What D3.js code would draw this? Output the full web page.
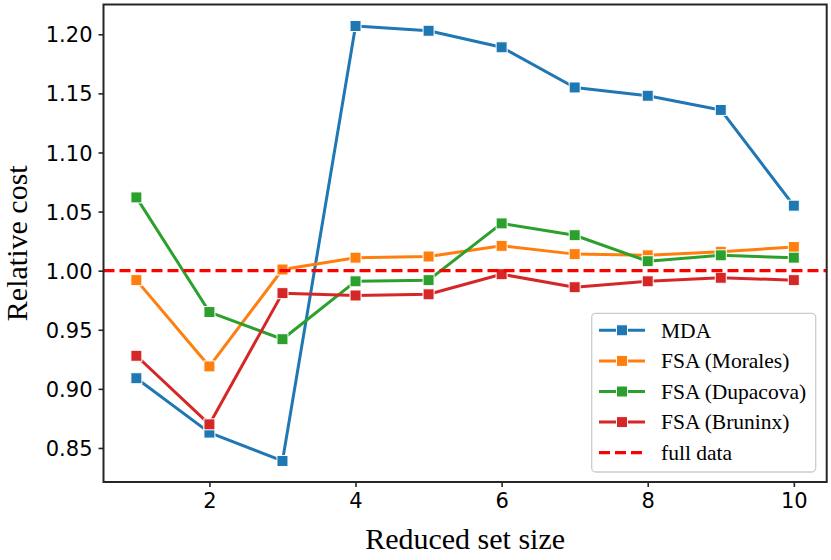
<!DOCTYPE html>
<html>
<head>
<meta charset="utf-8">
<script src="https://cdn.jsdelivr.net/npm/d3@7"></script>
<style>
  body { margin: 0; background: #fff; }
  svg { display: block; }
</style>
</head>
<body>
<div id="chart"></div>
<script>
// reduced set sizes
var sizes = [1, 2, 3, 4, 5, 6, 7, 8, 9, 10]

// relative cost per method
var mda       = [0.909, 0.863, 0.839, 1.207, 1.203, 1.189, 1.155, 1.148, 1.136, 1.055]
var morales   = [0.992, 0.919, 1.001, 1.011, 1.012, 1.021, 1.014, 1.013, 1.016, 1.020]
var dupacova  = [1.062, 0.965, 0.942, 0.991, 0.992, 1.040, 1.030, 1.008, 1.013, 1.011]
var bruninx   = [0.928, 0.870, 0.981, 0.979, 0.980, 0.997, 0.986, 0.991, 0.994, 0.992]

var seriesNames = ['MDA', 'FSA (Morales)', 'FSA (Dupacova)', 'FSA (Bruninx)']
var seriesColors = ['#1f77b4', '#ff7f0e', '#2ca02c', '#d62728']
var fullData = 1.0

var xTicks = [2, 4, 6, 8, 10]
var yTicks = [0.85, 0.90, 0.95, 1.00, 1.05, 1.10, 1.15, 1.20]

var W = 831, H = 560,
	margins = {top: 4.5, right: 4.3, bottom: 78, left: 103.5},
	width = W - margins.left - margins.right,
	height = H - margins.top - margins.bottom

var svg = d3.select('#chart').append('svg')
	.attr('width', W)
	.attr('height', H)

var g = svg.append('g')
	.attr('transform', 'translate(' + margins.left + ',' + margins.top + ')')

var x = d3.scaleLinear().domain([0.55, 10.45]).range([0, width])
var y = d3.scaleLinear().domain([0.8212, 1.2252]).range([height, 0])

var tickFont = '"DejaVu Sans", sans-serif'
var serifFont = '"Liberation Serif", "Times New Roman", serif'

// axes
var xAxis = g.append('g')
	.attr('transform', 'translate(0,' + height + ')')
	.call(d3.axisBottom(x).tickValues(xTicks).tickSize(5).tickPadding(5).tickFormat(d3.format('d')))
var yAxis = g.append('g')
	.call(d3.axisLeft(y).tickValues(yTicks).tickSize(5).tickPadding(6).tickFormat(d3.format('.2f')))

;[xAxis, yAxis].forEach(function(a) {
	a.select('.domain').remove()
	a.selectAll('.tick line').attr('stroke', '#262626').attr('stroke-width', 1.6)
	a.selectAll('.tick text')
		.attr('fill', '#000')
		.style('font-family', tickFont)
		.style('font-size', '21px')
})
xAxis.selectAll('.tick text').attr('dy', '0.75em')
yAxis.selectAll('.tick text').attr('dy', '0.36em')

var clip = g.append('clipPath').attr('id', 'plotclip')
clip.append('rect').attr('width', width).attr('height', height)

var plot = g.append('g').attr('clip-path', 'url(#plotclip)')

var allSeries = [mda, morales, dupacova, bruninx]

var line = d3.line()
	.x(function(d, i) { return x(sizes[i]) })
	.y(function(d) { return y(d) })

var ms = 11

allSeries.forEach(function(vals, k) {
	plot.append('path')
		.datum(vals)
		.attr('d', line)
		.attr('fill', 'none')
		.attr('stroke', seriesColors[k])
		.attr('stroke-width', 3)
		.attr('stroke-linejoin', 'round')

	plot.selectAll('.m' + k)
		.data(vals)
		.enter().append('rect')
		.attr('x', function(d, i) { return x(sizes[i]) - ms / 2 })
		.attr('y', function(d) { return y(d) - ms / 2 })
		.attr('width', ms)
		.attr('height', ms)
		.attr('fill', seriesColors[k])
		.attr('stroke', '#fff')
		.attr('stroke-width', 1)
})

// full data reference line
plot.append('line')
	.attr('x1', 0).attr('x2', width)
	.attr('y1', y(fullData)).attr('y2', y(fullData))
	.attr('stroke', '#ff0000')
	.attr('stroke-width', 3.2)
	.attr('stroke-dasharray', '11,5')

// frame
g.append('rect')
	.attr('width', width)
	.attr('height', height)
	.attr('fill', 'none')
	.attr('stroke', '#262626')
	.attr('stroke-width', 2)

// axis labels
svg.append('text')
	.attr('x', margins.left + width / 2)
	.attr('y', 549)
	.attr('text-anchor', 'middle')
	.style('font-family', serifFont)
	.style('font-size', '30px')
	.text('Reduced set size')

svg.append('text')
	.attr('transform', 'translate(26.5,' + (margins.top + height / 2) + ') rotate(-90)')
	.attr('text-anchor', 'middle')
	.style('font-family', serifFont)
	.style('font-size', '30px')
	.text('Relative cost')

// legend
var legend = svg.append('g').attr('transform', 'translate(591.7,313.3)')
legend.append('rect')
	.attr('width', 224)
	.attr('height', 158.7)
	.attr('rx', 4)
	.attr('fill', '#fff')
	.attr('fill-opacity', 0.8)
	.attr('stroke', '#cccccc')
	.attr('stroke-width', 1.3)

var legendItems = seriesNames.map(function(n, i) { return {name: n, color: seriesColors[i], dashed: false} })
legendItems.push({name: 'full data', color: '#ff0000', dashed: true})

var rowY = d3.scaleLinear().domain([0, 4]).range([17, 139.4])

legendItems.forEach(function(it, i) {
	var row = legend.append('g').attr('transform', 'translate(0,' + rowY(i) + ')')
	row.append('line')
		.attr('x1', 7.3).attr('x2', 53.3)
		.attr('stroke', it.color)
		.attr('stroke-width', it.dashed ? 3.2 : 3)
		.attr('stroke-dasharray', it.dashed ? '11,5' : null)
	if (!it.dashed) {
		row.append('rect')
			.attr('x', 30.3 - ms / 2).attr('y', -ms / 2)
			.attr('width', ms).attr('height', ms)
			.attr('fill', it.color)
			.attr('stroke', '#fff')
			.attr('stroke-width', 1)
	}
	row.append('text')
		.attr('x', 69.3)
		.attr('dy', '0.34em')
		.style('font-family', serifFont)
		.style('font-size', '21.5px')
		.text(it.name)
})
</script>
</body>
</html>
